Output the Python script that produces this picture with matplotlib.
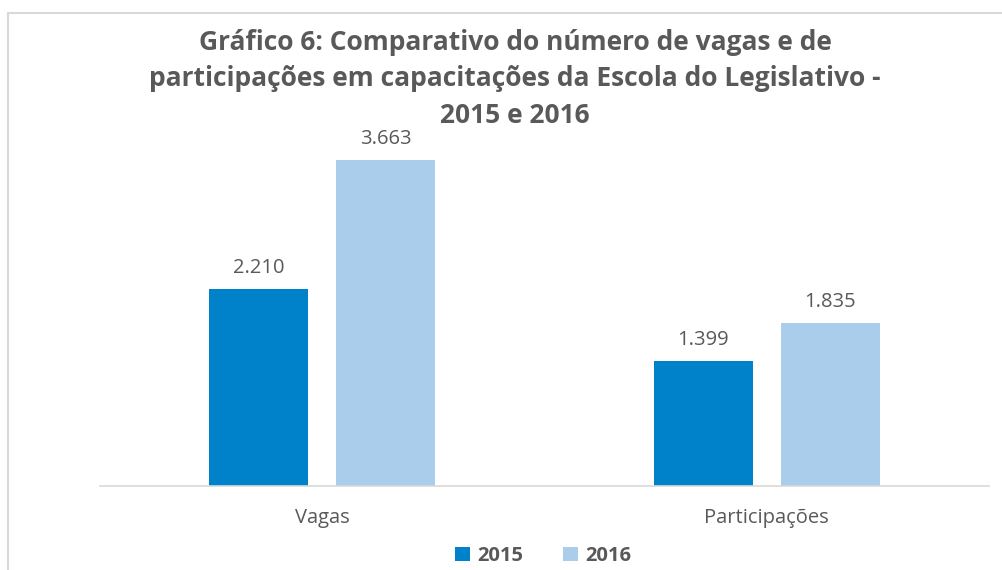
import matplotlib
matplotlib.use("Agg")
import matplotlib.pyplot as plt
import numpy as np
from matplotlib.patches import Rectangle

categorias = ["Vagas", "Participações"]
anos = ["2015", "2016"]
valores_2015 = [2210, 1399]
valores_2016 = [3663, 1835]
titulo = ("Gráfico 6: Comparativo do número de vagas e de\n"
          "participações em capacitações da Escola do Legislativo -\n"
          "2015 e 2016")

cor_2015 = "#0082CA"
cor_2016 = "#ABCDEC"
cinza = "#595959"

plt.rcParams["font.family"] = ["Open Sans", "DejaVu Sans"]

W, H = 1003, 570
fig = plt.figure(figsize=(W / 100, H / 100), dpi=100)

# borda clara do gráfico (estilo Excel)
fig.patches.append(Rectangle((8 / W, -0.1), 1.2, (H - 13) / H + 0.1,
                             transform=fig.transFigure, fill=False,
                             edgecolor="#D9D9D9", linewidth=1.5))

ymax = 4000
px_por_unidade = 326 / 3663
ax_h = ymax * px_por_unidade
ax = fig.add_axes([100 / W, 84 / H, 889 / W, ax_h / H])

x = np.arange(len(categorias))
largura = 0.223
desloc = 0.143
b1 = ax.bar(x - desloc, valores_2015, largura, color=cor_2015, label=anos[0])
b2 = ax.bar(x + desloc, valores_2016, largura, color=cor_2016, label=anos[1])

for barras in (b1, b2):
    for b in barras:
        v = b.get_height()
        ax.annotate(f"{v:,}".replace(",", "."),
                    (b.get_x() + b.get_width() / 2, v),
                    xytext=(0, 8), textcoords="offset points",
                    ha="center", va="bottom", fontsize=14.5, color=cinza)

ax.set_xlim(-0.5, 1.5)
ax.set_ylim(0, ymax)
ax.set_xticks(x)
ax.set_xticklabels(categorias, fontsize=14.5, color=cinza)
ax.tick_params(axis="x", length=0, pad=16)
ax.set_yticks([])
for s in ("left", "right", "top"):
    ax.spines[s].set_visible(False)
ax.spines["bottom"].set_color("#D9D9D9")
ax.spines["bottom"].set_linewidth(1.2)

fig.text(515 / W, (H - 79) / H, titulo, ha="center", va="center",
         fontsize=19, fontweight="bold", color=cinza, linespacing=1.45)

leg = fig.legend(handles=[b1, b2], labels=anos, loc="center",
                 bbox_to_anchor=(543 / W, (H - 556) / H), ncol=2,
                 frameon=False, fontsize=14.5, handlelength=0.75,
                 handleheight=0.75, columnspacing=2.0, handletextpad=0.35)
for t in leg.get_texts():
    t.set_color(cinza)
    t.set_fontweight("bold")

fig.savefig("out.png", dpi=100, facecolor="white")
